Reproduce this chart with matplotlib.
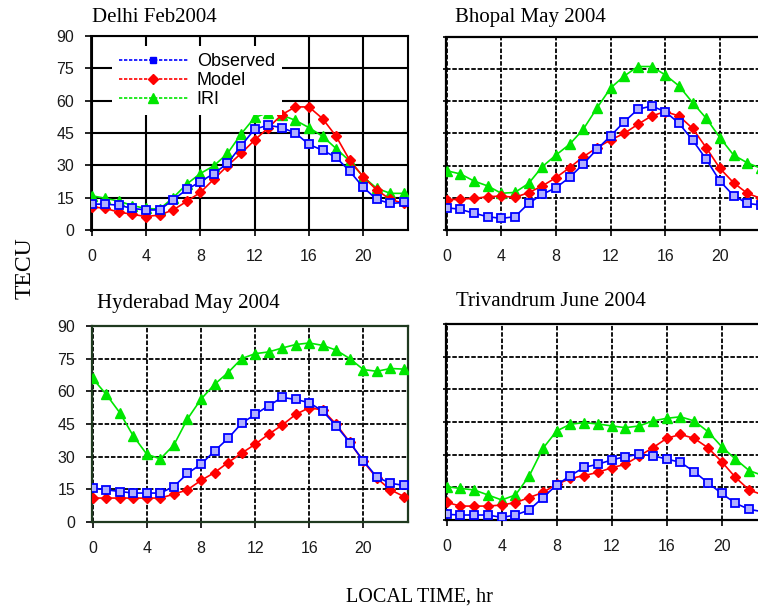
import matplotlib
matplotlib.use("Agg")
import matplotlib.pyplot as plt
from matplotlib.lines import Line2D

# local time, hours
hours = list(range(24))

# Delhi Feb 2004
delhi_obs = [12, 12, 11.5, 10, 9.3, 9.3, 14, 18.8, 22.4, 26.2, 30.9, 39, 46.8, 48.6,
             47.5, 45, 39.7, 37, 33.7, 27.3, 19.8, 14.2, 12.3, 12.8]
delhi_model = [10.8, 10, 8.3, 7.3, 6.2, 7, 9.3, 13.3, 17.4, 23.6, 29.8, 35.5, 41.7, 47.4,
               53.5, 57.1, 57.1, 51.7, 43.5, 32.4, 24.7, 18.5, 14.2, 12.3]
delhi_iri = [15.9, 14.7, 13.4, 11.3, 10, 9.7, 15, 21.3, 26.2, 29.8, 35.5, 44.5, 52.2, 54.5,
             53.3, 50.9, 47.5, 43.5, 37.8, 32, 24.7, 19.3, 17, 17]

# Bhopal May 2004
bhopal_obs = [10.4, 9.6, 7.8, 6.2, 5.4, 6.2, 12.4, 16.6, 19.7, 24.5, 30.7, 37.6, 43.8, 50.4,
              56.2, 57.7, 55.1, 49.7, 41.9, 32.9, 22.8, 16, 12.4, 11.6]
bhopal_model = [14, 14.4, 14.7, 15.5, 15.8, 15.2, 17.4, 20.5, 24.4, 29, 34.1, 38.3, 41.9, 45,
                49.2, 53.1, 55.1, 53.1, 47.3, 38.3, 28.7, 22, 17.1, 14.7]
bhopal_iri = [27.6, 26.1, 22.8, 20.5, 17.1, 17.5, 21.7, 29.5, 34.9, 39.9, 46.9, 56.8, 66.1, 71.7,
              76.1, 76.1, 72.2, 67.1, 59.3, 52, 43, 34.9, 31.3, 28.7]

# Hyderabad May 2004
hyd_obs = [15.6, 14.8, 14, 13.3, 13.3, 13.3, 16.3, 22.3, 26.5, 32.6, 38.4, 45.3, 49.4, 53.4,
           57.2, 56.3, 54.8, 50.9, 44.1, 36.5, 28.1, 20.6, 17.8, 16.8]
hyd_model = [11, 11, 11, 11, 11, 11, 12.8, 14.8, 19.1, 22.7, 27.3, 31.6, 35.7, 40.3,
             44.5, 49.4, 52.5, 51.4, 44.8, 36.6, 27.8, 20.1, 14.8, 11.7]
hyd_iri = [65.9, 58.6, 50.2, 39.5, 31.1, 29, 35.4, 47.3, 56.4, 63.2, 68.6, 75, 77.3, 78.1,
           79.9, 81.5, 82.2, 81.1, 78.9, 75, 70, 69.2, 70.5, 70.2]

# Trivandrum June 2004
tvm_obs = [2.6, 2.3, 2.3, 2.3, 1.2, 2.3, 4.6, 10.3, 16.1, 20.4, 24.2, 25.6, 27.6, 29.1,
           30.2, 29.5, 28, 26.5, 22.2, 17.1, 12.2, 7.7, 4.9, 3.8]
tvm_model = [8.1, 6.4, 6.4, 6.4, 6.9, 8, 10.3, 12.7, 16.4, 19.1, 20.4, 21.9, 24, 25.6,
             29.4, 33.2, 37.5, 39.3, 37.5, 33.2, 26.8, 19.6, 13.8, 11.5]
tvm_iri = [15.3, 14.5, 13.8, 11.5, 9.2, 11.5, 20.2, 32.9, 40.9, 44, 44.7, 44.1, 43.2, 42.4,
           43.2, 45.5, 46.7, 47.4, 45.5, 40.6, 33.7, 28, 22.7, 20.4]

titles = ["Delhi Feb2004", "Bhopal May 2004", "Hyderabad May 2004", "Trivandrum June 2004"]
series = [(delhi_obs, delhi_model, delhi_iri),
          (bhopal_obs, bhopal_model, bhopal_iri),
          (hyd_obs, hyd_model, hyd_iri),
          (tvm_obs, tvm_model, tvm_iri)]
xticks = [0, 4, 8, 12, 16, 20]
yticks = [0, 15, 30, 45, 60, 75, 90]

BLUE = "#0000ff"
RED = "#ff0000"
GREEN = "#00e600"
SERIF = "Liberation Serif"
SANS = "Liberation Sans"

fig = plt.figure(figsize=(7.58, 6.08), dpi=100)

# axes rectangles (figure fractions), right column runs off the right edge
rects = [[0.1201, 0.6217, 0.4182, 0.3191],
         [0.5884, 0.6217, 0.4208, 0.3180],
         [0.1214, 0.1414, 0.4169, 0.3224],
         [0.5884, 0.1447, 0.4235, 0.3224]]
# title offsets in points (dx, dy) from the upper-left corner
title_off = [(0.7, 10), (6.5, 10.5), (3.6, 13), (7.2, 13)]

for k in range(4):
    ax = fig.add_axes(rects[k])
    obs, model, iri = series[k]

    ax.plot(hours, iri, color=GREEN, lw=1.2, marker="^", ms=7.5, zorder=3)
    ax.plot(hours, model, color=RED, lw=1.2, marker="D", ms=5.5, zorder=4)
    ax.plot(hours, obs, color=BLUE, lw=1.2, marker="s", ms=5.5,
            mfc="#b0b0ff", mec=BLUE, mew=1.3, zorder=5)

    ax.set_xlim(-0.05, 23.3)
    ax.set_ylim(0, 90)
    ax.set_xticks(xticks)
    ax.set_yticks(yticks)

    if k == 0:
        # solid grid and frame
        ax.grid(True, color="black", lw=1.5, ls="-")
        for s in ax.spines.values():
            s.set_linewidth(1.5)
        ax.spines["left"].set_linewidth(2)
    else:
        ax.grid(True, color="black", lw=1.3, ls=(0, (2.5, 1)))
        edge = "#1f3a1f" if k == 2 else "black"
        for s in ax.spines.values():
            s.set_linewidth(1.6)
            s.set_linestyle((0, (2.5, 1)))
            s.set_color(edge)
    ax.set_axisbelow(True)

    ax.tick_params(axis="x", direction="out", length=4, width=1.2,
                   pad=10, labelsize=11.5, colors="black")
    ax.tick_params(axis="y", direction="out", length=4, width=1.2,
                   pad=8, labelsize=11.5)
    for lab in ax.get_xticklabels() + ax.get_yticklabels():
        lab.set_family(SANS)
        lab.set_color("#1a1a1a")
    if k in (1, 3):
        ax.tick_params(axis="y", labelleft=False, length=2)

    dx, dy = title_off[k]
    ax.annotate(titles[k], xy=(0, 1), xycoords="axes fraction",
                xytext=(dx, dy), textcoords="offset points",
                ha="left", va="baseline", family=SERIF, fontsize=15)

    if k == 0:
        handles = [
            Line2D([], [], color=BLUE, lw=1.2, ls=(0, (2, 1)), marker="s", ms=5,
                   mfc=BLUE, mec=BLUE),
            Line2D([], [], color=RED, lw=1.2, ls=(0, (2, 1)), marker="D", ms=5),
            Line2D([], [], color=GREEN, lw=1.2, ls=(0, (2, 1)), marker="^", ms=7),
        ]
        leg = ax.legend(handles, ["Observed", "Model", "IRI"],
                        loc="upper left", bbox_to_anchor=(0.066, 0.95),
                        borderaxespad=0, borderpad=0.4, handlelength=3.8,
                        handletextpad=0.5, labelspacing=0.12, numpoints=1,
                        fancybox=False, framealpha=1,
                        prop={"family": SANS, "size": 13})
        leg.get_frame().set_edgecolor("none")
        leg.set_zorder(10)

fig.text(25 / 758, 1 - 268 / 608, "TECU", rotation=90, ha="center", va="center",
         family=SERIF, fontsize=17)
fig.text(419 / 758, 1 - 597 / 608, "LOCAL TIME, hr", ha="center", va="center",
         family=SERIF, fontsize=14.5)

fig.savefig("out.png", dpi=100)
